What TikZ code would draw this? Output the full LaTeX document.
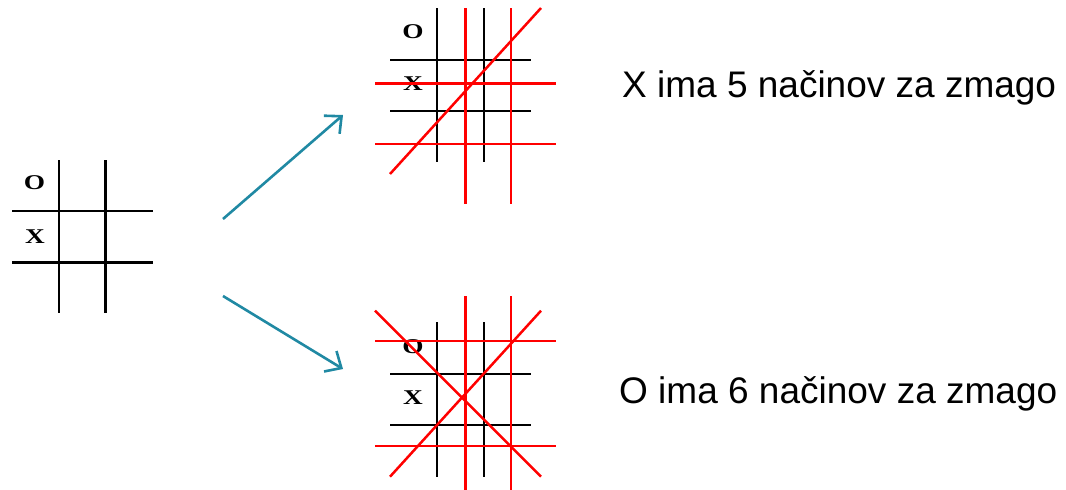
\documentclass[tikz,border=0pt]{standalone}
\usepackage{fontspec}
\setmainfont{Liberation Serif}
\setsansfont{Liberation Sans}
\usetikzlibrary{arrows.meta}
\definecolor{teal1}{HTML}{2089A3}
\definecolor{red1}{HTML}{FF0000}
\newcommand{\wide}[1]{\scalebox{1.3}[1]{#1}}
\tikzset{
  gridline/.style={line width=2.5pt, black},
  winline/.style={line width=2.5pt, red1},
  symb/.style={font=\fontsize{21}{21}\selectfont\bfseries, inner sep=0pt},
  caption/.style={font=\sffamily\fontsize{37}{37}\selectfont, anchor=base west, inner sep=0pt},
  arr/.style={line width=2.6pt, teal1, -{Straight Barb[length=13pt,width=24pt,line width=2.6pt]}}
}
\begin{document}
\begin{tikzpicture}[x=1pt,y=-1pt]
\useasboundingbox (0,0) rectangle (1066,490);

% left grid
\draw[gridline] (59,160) -- (59,313);
\draw[gridline] (105.7,160) -- (105.7,313);
\draw[gridline] (12,211) -- (153,211);
\draw[gridline] (12,262.3) -- (153,262.3);
\node[symb] (lo) at (34.5,183) {\wide{O}};
\node[symb] (lx) at (35,237) {\wide{X}};

% top grid
\draw[gridline] (437,8) -- (437,162);
\draw[gridline] (484,8) -- (484,162);
\draw[gridline] (390,60) -- (531,60);
\draw[gridline] (390,111) -- (531,111);
\node[symb] (to) at (413,32) {\wide{O}};
\node[symb] (tx) at (413,84) {\wide{X}};
\draw[winline] (465.7,8) -- (465.7,204);
\draw[winline] (511,8) -- (511,204);
\draw[winline] (375,83.3) -- (556,83.3);
\draw[winline] (375,144) -- (556,144);
\draw[winline] (390,174) -- (541,8);

% bottom grid
\draw[gridline] (437,322) -- (437,477);
\draw[gridline] (484,322) -- (484,477);
\draw[gridline] (390,374) -- (531,374);
\draw[gridline] (390,425) -- (531,425);
\node[symb] (bo) at (413,347) {\wide{O}};
\node[symb] (bx) at (413,398) {\wide{X}};
\draw[winline] (465.7,296) -- (465.7,490);
\draw[winline] (511,296) -- (511,490);
\draw[winline] (375,341) -- (556,341);
\draw[winline] (375,446) -- (556,446);
\draw[winline] (375,310.7) -- (541,476.7);
\draw[winline] (390,476.7) -- (541,310.7);

% arrows
\coordinate (a1s) at (223,219);
\coordinate (a1e) at (343,115);
\coordinate (a2s) at (223,296);
\coordinate (a2e) at (343,369);
\draw[arr] (a1s) -- (a1e);
\draw[arr] (a2s) -- (a2e);

% captions
\node[caption] (tc) at (622,97) {X ima 5 načinov za zmago};
\node[caption] (bc) at (619,403) {O ima 6 načinov za zmago};
\end{tikzpicture}
\end{document}
